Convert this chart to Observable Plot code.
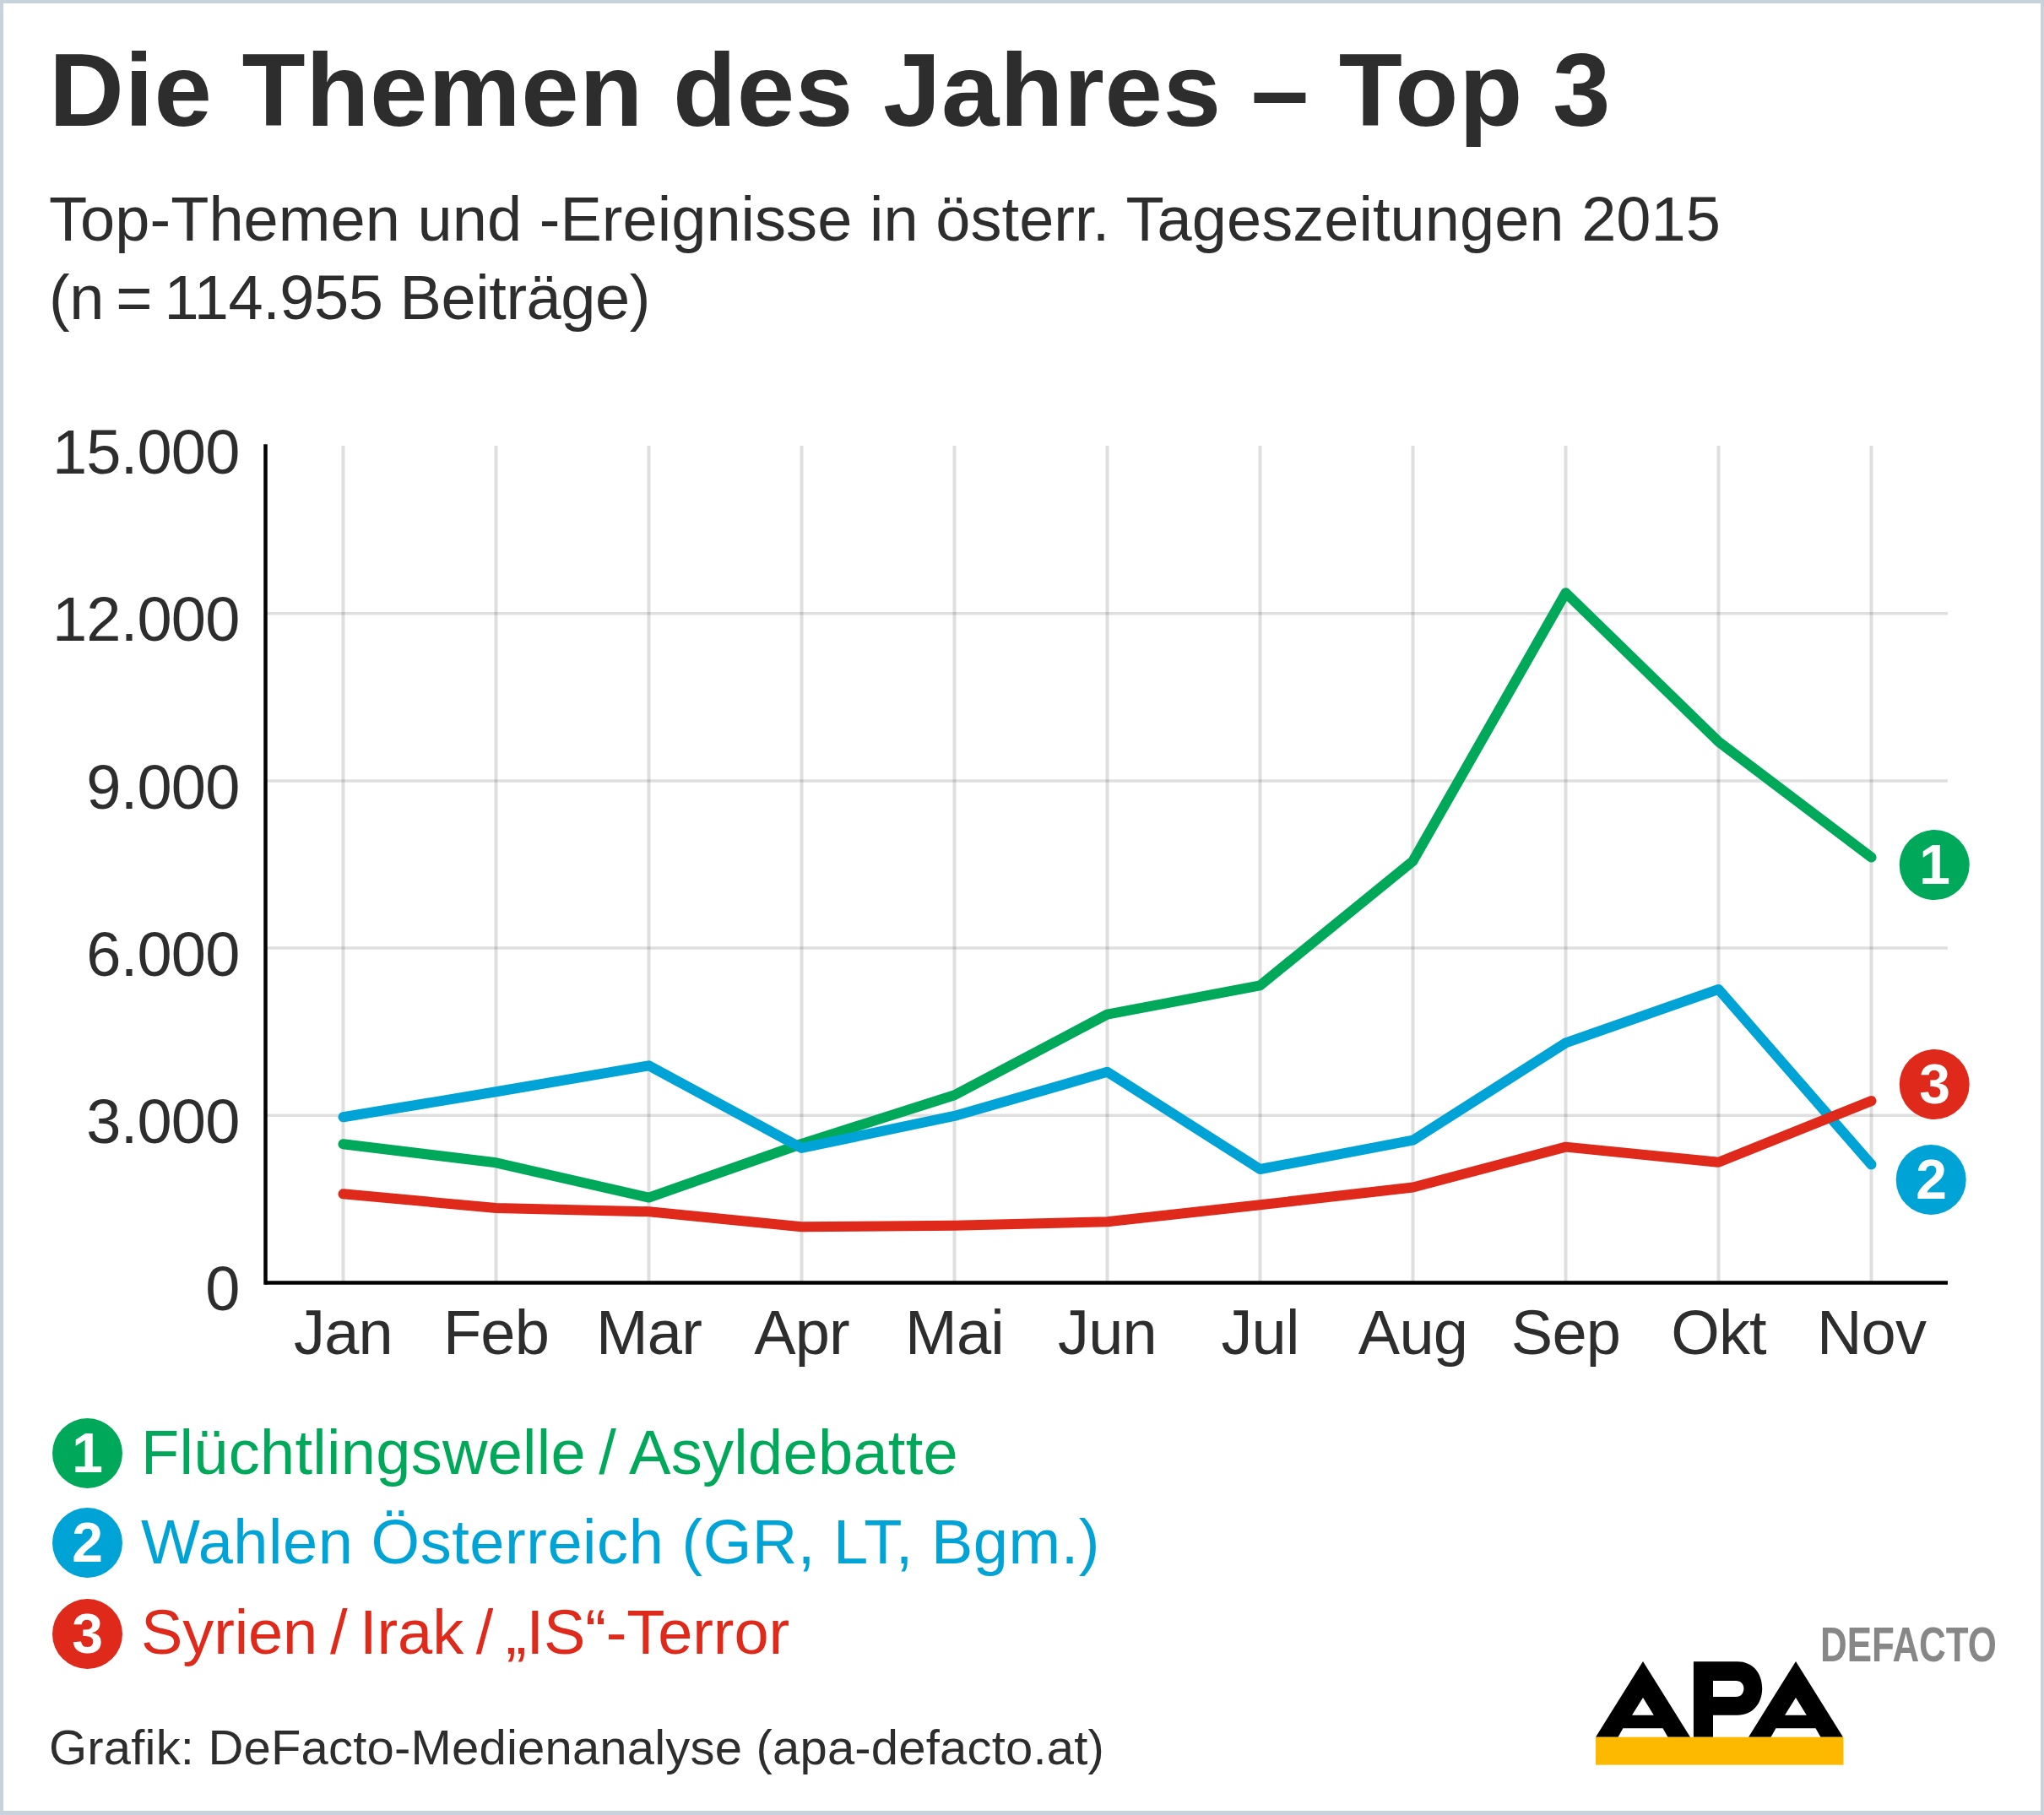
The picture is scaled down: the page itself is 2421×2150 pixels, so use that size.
<!DOCTYPE html>
<html lang="de">
<head>
<meta charset="utf-8">
<title>Die Themen des Jahres – Top 3</title>
<script src="https://cdn.jsdelivr.net/npm/d3@7"></script>
<script src="https://cdn.jsdelivr.net/npm/@observablehq/plot@0.6"></script>
<style>
  html, body { margin: 0; padding: 0; background: #fff; }
  #page { position: relative; width: 2421px; height: 2150px; box-sizing: border-box; background: #fff;
          border-style: solid; border-color: #c8d2dc; border-width: 4px 4px 5px 4px; overflow: hidden;
          font-family: "Liberation Sans", Arial, sans-serif; color: #2d2d2d; }
  #inner { position: absolute; left: -4px; top: -4px; width: 2421px; height: 2150px; }
  .t { position: absolute; white-space: nowrap; line-height: 1; }
  #title { font-weight: 700; font-size: 123px; }
  .sub { font-size: 74px; }
  .leg { font-size: 74px; }
  #source { font-size: 58px; }
  #defacto { font-weight: 700; font-size: 58px; color: #878787; transform-origin: 0 0; transform: scaleX(0.757); }
  .badge { position: absolute; width: 83px; height: 83px; border-radius: 50%; color: #fff; font-weight: 700;
           font-size: 66px; line-height: 83px; text-align: center; }
  #chart { position: absolute; left: 0; top: 440px; }
  #chart svg { display: block; }
  #chart svg text { letter-spacing: -0.8px; }
  #logo { position: absolute; left: 0; top: 0; }
</style>
</head>
<body>
<div id="page"><div id="inner">
  <div class="t" id="title" data-w="1850" style="left:58px;top:45px">Die Themen des Jahres – Top 3</div>
  <div class="t sub" data-w="1980" style="left:58px;top:223px">Top-Themen und -Ereignisse in österr. Tageszeitungen 2015</div>
  <div class="t sub" data-w="712" style="left:58px;top:316px">(n&#8201;=&#8201;114.955 Beiträge)</div>
  <div id="chart"></div>
  <div id="legend"></div>
  <div class="t" id="source" data-w="1250" style="left:58px;top:2041px">Grafik: DeFacto-Medienanalyse (apa-defacto.at)</div>
  <svg id="logo" width="2421" height="2150" viewBox="0 0 2421 2150">
    <path fill="#000" fill-rule="evenodd" d="M1946 1968 L2002 2057.7 L1975.5 2057.7 L1969.5 2047.3 L1922.4 2047.3 L1916.5 2057.7 L1890 2057.7 Z M1946 2011 L1933 2031.7 L1958.8 2031.7 Z"/>
    <path fill="#000" fill-rule="evenodd" d="M2127 1968 L2183 2057.7 L2156.5 2057.7 L2150.5 2047.3 L2103.4 2047.3 L2097.5 2057.7 L2071 2057.7 Z M2127 2011 L2114 2031.7 L2139.8 2031.7 Z"/>
    <path fill="#000" fill-rule="evenodd" d="M2005.9 1968.3 L2058 1968.3 C2076 1968.3 2087.2 1982 2087.2 2000 C2087.2 2018 2076 2031.7 2058 2031.7 L2029 2031.7 L2029 2057.7 L2005.9 2057.7 Z M2029 1991 L2029 2010 L2056 2010 C2062 2010 2065.4 2006 2065.4 2000 C2065.4 1995 2062 1991 2056 1991 Z"/>
    <rect x="1890" y="2057.7" width="293.5" height="33" fill="#fdb900"/>
  </svg>
  <div class="t" id="defacto" style="left:2156px;top:1919px">DEFACTO</div>
</div></div>
<script>
const months = ["Jan","Feb","Mar","Apr","Mai","Jun","Jul","Aug","Sep","Okt","Nov"];
const fluechtlinge = [2485,2152,1527,2490,3363,4811,5331,7560,12370,9702,7628];
const wahlen       = [2970,3424,3893,2415,2990,3780,2036,2555,4300,5260,2119];
const syrien       = [1592,1340,1275,1002,1025,1093,1396,1710,2435,2160,3260];
const yTicks = [0,3000,6000,9000,12000,15000];
const labels = ["Flüchtlingswelle\u2009/\u2009Asyldebatte","Wahlen Österreich (GR, LT, Bgm.)","Syrien\u2009/\u2009Irak\u2009/\u2009„IS“-Terror"];
const colors = ["#00a85a","#00a3d6","#df2a1b"];
const badgeOffsets = [[74.7,9],[70.7,18],[74.7,-19.6]];
const legendW = [968,1136,768];

const deFormat = d3.formatLocale({decimal:",",thousands:".",grouping:[3],currency:["","€"]}).format(",d");
const seriesValues = [fluechtlinge, wahlen, syrien];
const tables = seriesValues.map(vals => months.map((m,i) => ({month:m, value:vals[i]})));

const lineMarks = tables.map((tbl,i) => Plot.line(tbl, {x:"month", y:"value", stroke:colors[i], strokeWidth:12}));
const badgeMarks = tables.flatMap((tbl,i) => {
  const last = tbl.slice(-1);
  const [dx,dy] = badgeOffsets[i];
  return [
    Plot.dot(last, {x:"month", y:"value", r:41.5, fill:colors[i], stroke:null, dx, dy}),
    Plot.text(last, {x:"month", y:"value", text:() => String(i+1), fill:"#fff", fontSize:66, fontWeight:700, dx, dy:dy+1})
  ];
});

const plot = Plot.plot({
  width: 2421, height: 1220,
  marginLeft: 314, marginRight: 114, marginTop: 88, marginBottom: 141,
  style: {fontFamily:"'Liberation Sans', Arial, sans-serif", background:"transparent", color:"#2d2d2d"},
  x: {type:"point", domain:months, range:[405.5,2216], padding:0},
  y: {domain:[0,15000]},
  marks: [
    Plot.gridX(months, {stroke:"#000", strokeOpacity:0.125, strokeWidth:4}),
    Plot.gridY(yTicks.slice(1,-1), {stroke:"#000", strokeOpacity:0.125, strokeWidth:3.5}),
    ...lineMarks,
    Plot.frame({anchor:"left", stroke:"#000", strokeWidth:4.5}),
    Plot.ruleY([0], {stroke:"#000", strokeWidth:4.5}),
    Plot.axisY(yTicks, {label:null, tickSize:0, tickPadding:31, fontSize:74, fill:"#2d2d2d", dy:9, tickFormat:deFormat}),
    Plot.axisX(months, {label:null, tickSize:0, tickPadding:32, fontSize:74, fill:"#2d2d2d"}),
    ...badgeMarks
  ]
});
document.getElementById("chart").appendChild(plot);

const legend = document.getElementById("legend");
const baselines = [1746.7,1852.7,1960];
const lefts = [167,167,167];
labels.forEach((lab,i) => {
  const b = document.createElement("div");
  b.className = "badge"; b.textContent = String(i+1);
  b.style.background = colors[i]; b.style.left = "62px"; b.style.top = (baselines[i]-66.5)+"px";
  legend.appendChild(b);
  const t = document.createElement("div");
  t.className = "t leg"; t.textContent = lab; t.dataset.w = legendW[i];
  t.style.color = colors[i]; t.style.left = lefts[i]+"px"; t.style.top = (baselines[i]-62.6)+"px";
  legend.appendChild(t);
});

// tighten copy to the reference's line widths
document.querySelectorAll(".t[data-w]").forEach(el => {
  const w = el.getBoundingClientRect().width;
  const n = el.textContent.length;
  el.style.letterSpacing = ((+el.dataset.w - w)/n).toFixed(3)+"px";
});
</script>
</body>
</html>
